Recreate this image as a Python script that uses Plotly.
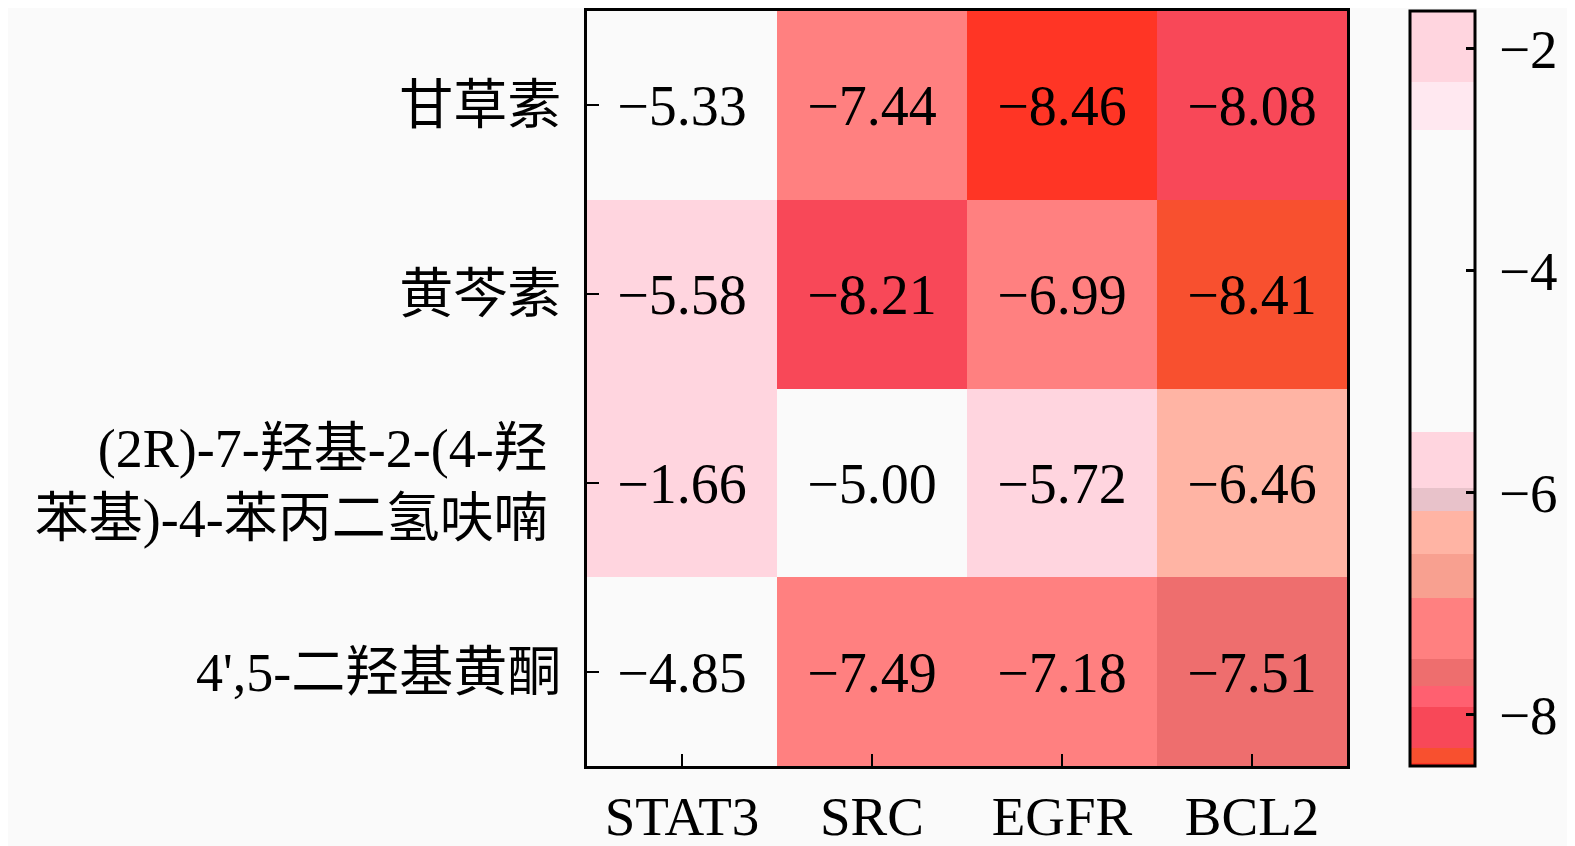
import plotly.graph_objects as go

# --- DATA ---
targets = ["STAT3", "SRC", "EGFR", "BCL2"]
compounds = [
    "甘草素",
    "黄芩素",
    "(2R)-7-羟基-2-(4-羟 <br>苯基)-4-苯丙二氢呋喃 ",
    "4',5-二羟基黄酮",
]
# binding energy, one row per compound
row_glycyrrhizin = [-5.33, -7.44, -8.46, -8.08]
row_baicalein = [-5.58, -8.21, -6.99, -8.41]
row_flavanone = [-1.66, -5.00, -5.72, -6.46]
row_flavone = [-4.85, -7.49, -7.18, -7.51]
z = [row_glycyrrhizin, row_baicalein, row_flavanone, row_flavone]
cbar_ticks = [-8, -6, -4, -2]

ZMIN, ZMAX = -8.46, -1.66

# stepped colour bands (upper bound of each band, colour)
BANDS = [
    (-8.435, "#FF3525"),
    (-8.30, "#F8502F"),
    (-7.93, "#F84858"),
    (-7.74, "#FF6070"),
    (-7.50, "#EE6E6E"),
    (-6.95, "#FF8080"),
    (-6.55, "#F8A090"),
    (-6.16, "#FFB4A4"),
    (-5.96, "#E8C2CA"),
    (-5.45, "#FFD5DF"),
    (-2.73, "#FAFAFA"),
    (-2.30, "#FFE8F0"),
    (-1.66, "#FFD5DF"),
]

def stepped_scale(bands, lo, hi):
    scale = []
    start = 0.0
    for upper, col in bands:
        end = min(1.0, (upper - lo) / (hi - lo))
        scale.append([start, col])
        scale.append([end, col])
        start = end
    scale[-1][0] = 1.0
    return scale

text = [[f"{v:.2f}".replace("-", "\u2212") for v in row] for row in z]
cbar_text = ["\u2009\u2212" + str(abs(v)) for v in cbar_ticks]

FONT = "Liberation Serif, Times New Roman, Noto Sans CJK SC, serif"

fig = go.Figure(go.Heatmap(
    z=z,
    x=targets,
    y=compounds,
    text=text,
    texttemplate="%{text}",
    textfont=dict(size=56, color="black", family=FONT),
    zmin=ZMIN,
    zmax=ZMAX,
    colorscale=stepped_scale(BANDS, ZMIN, ZMAX),
    colorbar=dict(
        x=1.083, xanchor="left",
        y=0.5, yanchor="middle", len=1.0,
        thickness=65,
        outlinewidth=3, outlinecolor="black",
        tickvals=cbar_ticks, ticktext=cbar_text,
        ticks="inside", ticklen=10, tickwidth=3, tickcolor="black",
        tickfont=dict(size=55, color="black", family=FONT),
        xpad=0, ypad=0,
    ),
    hovertemplate="%{y}<br>%{x}: %{z:.2f}<extra></extra>",
))

fig.update_layout(
    width=1575, height=846,
    paper_bgcolor="#FAFAFA",
    plot_bgcolor="#FAFAFA",
    font=dict(family=FONT, size=54, color="black"),
    margin=dict(l=579, r=236, t=0, b=88),
)
fig.update_xaxes(
    showline=True, mirror=True, linecolor="black", linewidth=3,
    ticks="inside", ticklen=12, tickwidth=2, tickcolor="black",
    tickfont=dict(size=55, family=FONT), showgrid=False,
)
fig.update_yaxes(
    autorange="reversed",
    showline=True, mirror=True, linecolor="black", linewidth=3,
    ticks="inside", ticklen=12, tickwidth=2, tickcolor="black",
    tickfont=dict(size=54, family=FONT), showgrid=False,
    ticklabelstandoff=12,
)

fig.write_html("out.html")
